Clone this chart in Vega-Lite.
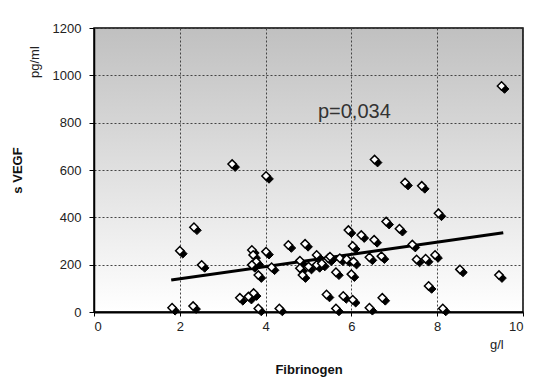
{
  "$schema": "https://vega.github.io/schema/vega-lite/v6.json",
  "width": 429,
  "height": 284,
  "autosize": {"type": "none"},
  "padding": {"left": 94, "top": 28, "right": 27, "bottom": 67},
  "background": "white",
  "config": {
    "font": "Liberation Sans",
    "view": {
      "fill": {"gradient": "linear", "x1": 0, "y1": 0, "x2": 0, "y2": 1,
        "stops": [{"offset": 0, "color": "#c0c0c0"}, {"offset": 1, "color": "#ffffff"}]},
      "stroke": "#000000",
      "strokeWidth": 1.5
    },
    "axis": {
      "labelFont": "Liberation Sans", "labelFontSize": 13, "labelColor": "#222222",
      "domainColor": "#000000", "tickColor": "#000000",
      "gridColor": "#444444", "gridDash": [2, 2], "gridWidth": 1,
      "titleFont": "Liberation Sans", "titleFontWeight": "bold", "titleFontSize": 13, "titleColor": "#111111"
    }
  },
  "encoding": {
    "x": {"field": "x", "type": "quantitative",
      "scale": {"domain": [0, 10], "nice": false, "zero": false},
      "axis": {"title": "Fibrinogen", "values": [0, 2, 4, 6, 8, 10], "format": "d", "grid": true, "tickSize": 4, "labelPadding": 4, "titlePadding": 30, "domainWidth": 2}},
    "y": {"field": "y", "type": "quantitative",
      "scale": {"domain": [0, 1200], "nice": false, "zero": false},
      "axis": {"title": "s VEGF", "values": [0, 200, 400, 600, 800, 1000, 1200], "format": "d", "grid": true, "tickSize": 5, "labelPadding": 8, "titlePadding": 28, "domainWidth": 1.5}}
  },
  "layer": [
    {
      "data": {"values": [{"x": 1.8, "y": 135}, {"x": 9.54, "y": 335}]},
      "mark": {"type": "line", "color": "#000000", "strokeWidth": 3}
    },
    {
      "data": {"name": "pts"},
      "mark": {"type": "point", "shape": "diamond", "filled": true, "fill": "#000000", "stroke": "#000000", "strokeWidth": 1, "size": 75, "opacity": 1, "xOffset": 3, "yOffset": 3}
    },
    {
      "data": {"name": "pts"},
      "mark": {"type": "point", "shape": "diamond", "filled": true, "fill": "#ffffff", "stroke": "#000000", "strokeWidth": 1.5, "size": 70, "opacity": 1}
    },
    {
      "data": {"values": [{"x": 5.22, "y": 845, "label": "p=0,034"}]},
      "mark": {"type": "text", "align": "left", "baseline": "middle", "fontSize": 20, "color": "#333333", "font": "Liberation Sans"},
      "encoding": {"text": {"field": "label"}}
    },
    {
      "data": {"values": [{"x": -1.375, "y": 1056, "label": "pg/ml"}]},
      "mark": {"type": "text", "align": "center", "baseline": "middle", "angle": 270, "fontSize": 13, "color": "#222222", "font": "Liberation Sans"},
      "encoding": {"text": {"field": "label"}}
    },
    {
      "data": {"values": [{"x": 9.39, "y": -139, "label": "g/l"}]},
      "mark": {"type": "text", "align": "center", "baseline": "middle", "fontSize": 13, "color": "#222222", "font": "Liberation Sans"},
      "encoding": {"text": {"field": "label"}}
    }
  ],
  "datasets": {
    "pts": [
      {"x": 1.82, "y": 18}, {"x": 2.0, "y": 259}, {"x": 2.31, "y": 25}, {"x": 2.33, "y": 358},
      {"x": 2.51, "y": 199}, {"x": 3.22, "y": 625}, {"x": 3.4, "y": 60}, {"x": 3.6, "y": 65},
      {"x": 3.72, "y": 80}, {"x": 3.83, "y": 15}, {"x": 3.68, "y": 262}, {"x": 3.71, "y": 241},
      {"x": 3.78, "y": 213}, {"x": 3.68, "y": 199}, {"x": 3.83, "y": 156}, {"x": 4.01, "y": 575},
      {"x": 4.01, "y": 255}, {"x": 4.14, "y": 189}, {"x": 4.32, "y": 15}, {"x": 4.53, "y": 283},
      {"x": 4.8, "y": 217}, {"x": 4.8, "y": 185}, {"x": 4.86, "y": 156}, {"x": 4.92, "y": 288},
      {"x": 5.0, "y": 192}, {"x": 5.19, "y": 241}, {"x": 5.19, "y": 199}, {"x": 5.31, "y": 205},
      {"x": 5.42, "y": 74}, {"x": 5.46, "y": 227}, {"x": 5.5, "y": 234}, {"x": 5.64, "y": 168},
      {"x": 5.64, "y": 15}, {"x": 5.73, "y": 227}, {"x": 5.81, "y": 68}, {"x": 5.89, "y": 223},
      {"x": 5.93, "y": 346}, {"x": 6.0, "y": 160}, {"x": 6.03, "y": 279}, {"x": 6.03, "y": 52},
      {"x": 6.05, "y": 213}, {"x": 6.23, "y": 325}, {"x": 6.42, "y": 231}, {"x": 6.42, "y": 18},
      {"x": 6.53, "y": 305}, {"x": 6.54, "y": 644}, {"x": 6.7, "y": 236}, {"x": 6.72, "y": 60},
      {"x": 6.81, "y": 382}, {"x": 7.12, "y": 352}, {"x": 7.25, "y": 547}, {"x": 7.42, "y": 285},
      {"x": 7.52, "y": 222}, {"x": 7.64, "y": 533}, {"x": 7.73, "y": 225}, {"x": 7.8, "y": 110},
      {"x": 7.95, "y": 241}, {"x": 8.03, "y": 417}, {"x": 8.13, "y": 15}, {"x": 8.53, "y": 180},
      {"x": 9.44, "y": 156}, {"x": 9.5, "y": 955}
    ]
  }
}
